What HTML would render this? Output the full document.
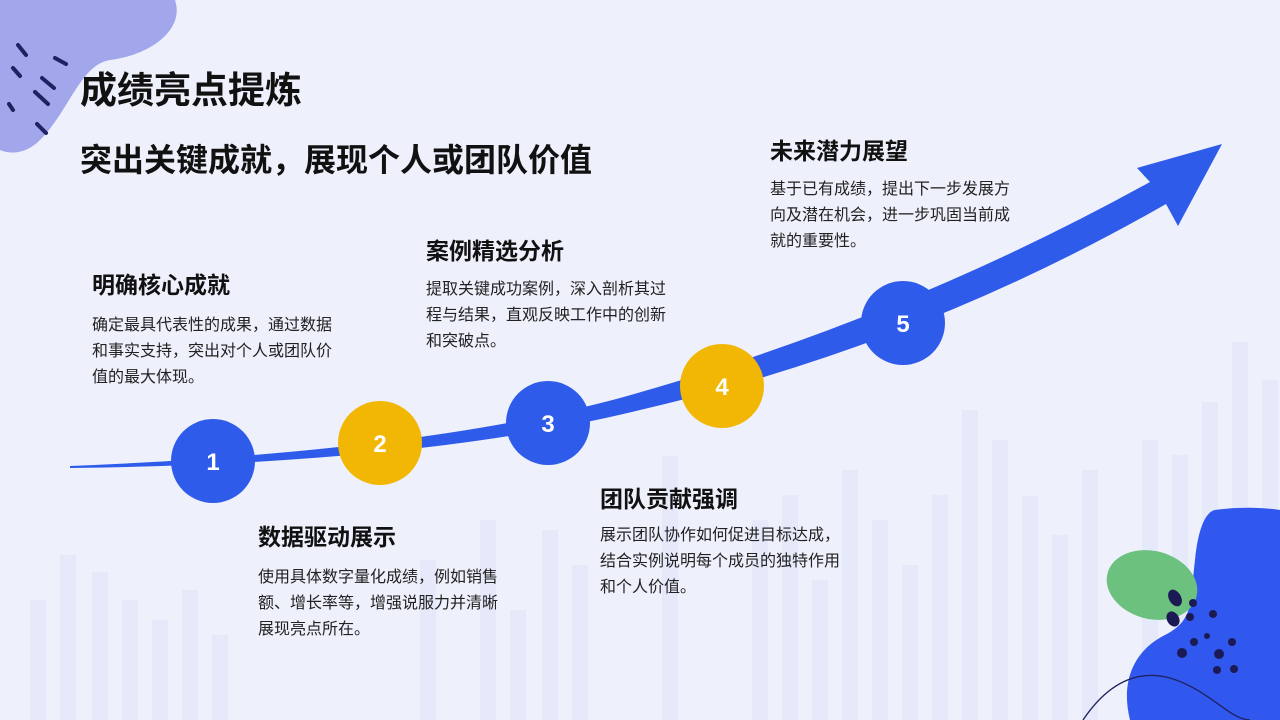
<!DOCTYPE html>
<html><head><meta charset="utf-8"><style>
body{margin:0;width:1280px;height:720px;overflow:hidden;background:#eef0fc;font-family:"Liberation Sans","Noto Sans CJK SC",sans-serif;position:relative}
h1{position:absolute;margin:0;left:80px;top:60px;font-size:37px;font-weight:bold;color:#111}
h2{position:absolute;margin:0;left:80px;top:135px;font-size:32px;font-weight:bold;color:#111}
.h{position:absolute;font-size:23px;font-weight:bold;color:#111}
.p{position:absolute;font-size:16px;line-height:26px;color:#222;width:248px}
</style></head><body>
<svg width="1280" height="720" style="position:absolute;left:0;top:0">
<g fill="#e6e9fa">
<rect x="30" y="600" width="16" height="120"/><rect x="60" y="555" width="16" height="165"/><rect x="92" y="572" width="16" height="148"/><rect x="122" y="600" width="16" height="120"/><rect x="152" y="620" width="16" height="100"/><rect x="182" y="590" width="16" height="130"/><rect x="212" y="635" width="16" height="85"/>
<rect x="420" y="560" width="16" height="160"/><rect x="480" y="520" width="16" height="200"/><rect x="510" y="610" width="16" height="110"/><rect x="542" y="530" width="16" height="190"/><rect x="572" y="565" width="16" height="155"/>
<rect x="662" y="456" width="16" height="264"/><rect x="752" y="520" width="16" height="200"/><rect x="782" y="495" width="16" height="225"/><rect x="812" y="580" width="16" height="140"/><rect x="842" y="470" width="16" height="250"/><rect x="872" y="520" width="16" height="200"/><rect x="902" y="565" width="16" height="155"/><rect x="932" y="495" width="16" height="225"/><rect x="962" y="410" width="16" height="310"/><rect x="992" y="440" width="16" height="280"/><rect x="1022" y="496" width="16" height="224"/><rect x="1052" y="535" width="16" height="185"/><rect x="1082" y="470" width="16" height="250"/><rect x="1142" y="440" width="16" height="280"/><rect x="1172" y="455" width="16" height="265"/><rect x="1202" y="402" width="16" height="318"/><rect x="1232" y="342" width="16" height="378"/><rect x="1262" y="380" width="16" height="340"/>
</g>
<path d="M0,0 L175,0 C185,30 150,55 110,60 C80,65 70,110 40,140 C20,160 0,150 0,150 Z" fill="#a2a6ea"/>
<g stroke="#1f2160" stroke-width="4" stroke-linecap="round">
<line x1="18" y1="45" x2="26" y2="55"/><line x1="55" y1="58" x2="66" y2="64"/><line x1="13" y1="68" x2="20" y2="76"/><line x1="42" y1="78" x2="54" y2="88"/><line x1="35" y1="92" x2="48" y2="104"/><line x1="9" y1="104" x2="13" y2="110"/><line x1="37" y1="124" x2="46" y2="133"/>
</g>
<path d="M70,466 Q 420,452 620,398 Q 900,320 1150,182 L1137,168 L1222,144 L1178,226 L1166,204 Q 920,345 640,410 Q 420,464 70,468 Z" fill="#2f5bea"/>
<path d="M1215,510 C1250,505 1280,510 1280,510 L1280,720 L1130,720 C1120,680 1135,650 1165,635 C1195,620 1190,600 1195,560 C1198,530 1205,512 1215,510 Z" fill="#3058ef"/>
<ellipse cx="1152" cy="585" rx="46" ry="34" transform="rotate(15 1152 585)" fill="#6cc17f"/>
<g fill="#1c1a55"><ellipse cx="1175" cy="598" rx="6" ry="9" transform="rotate(-30 1175 598)"/><ellipse cx="1173" cy="619" rx="6" ry="8" transform="rotate(-30 1173 619)"/><circle cx="1193" cy="603" r="4"/><circle cx="1190" cy="617" r="4"/><circle cx="1213" cy="614" r="4"/><circle cx="1207" cy="636" r="3"/><circle cx="1194" cy="642" r="4"/><circle cx="1232" cy="642" r="4"/><circle cx="1219" cy="654" r="5"/><circle cx="1182" cy="653" r="5"/><circle cx="1217" cy="670" r="4"/><circle cx="1234" cy="669" r="4"/></g>
<path d="M1083,720 C1110,680 1140,670 1170,678 C1210,690 1230,720 1250,720" fill="none" stroke="#1f2160" stroke-width="1.3"/>
<g font-family="Liberation Sans,sans-serif" font-weight="bold" font-size="24" fill="#fff" text-anchor="middle">
<circle cx="213" cy="461" r="42" fill="#2f5bea"/><text x="213" y="470">1</text>
<circle cx="380" cy="443" r="42" fill="#f2b705"/><text x="380" y="452">2</text>
<circle cx="548" cy="423" r="42" fill="#2f5bea"/><text x="548" y="432">3</text>
<circle cx="722" cy="386" r="42" fill="#f2b705"/><text x="722" y="395">4</text>
<circle cx="903" cy="323" r="42" fill="#2f5bea"/><text x="903" y="332">5</text>
</g>
</svg>
<h1>成绩亮点提炼</h1>
<h2>突出关键成就，展现个人或团队价值</h2>
<div class="h" style="left:92px;top:266px">明确核心成就</div>
<div class="p" style="left:92px;top:313px">确定最具代表性的成果，通过数据和事实支持，突出对个人或团队价值的最大体现。</div>
<div class="h" style="left:258px;top:518px">数据驱动展示</div>
<div class="p" style="left:258px;top:565px">使用具体数字量化成绩，例如销售额、增长率等，增强说服力并清晰展现亮点所在。</div>
<div class="h" style="left:426px;top:232px">案例精选分析</div>
<div class="p" style="left:426px;top:277px">提取关键成功案例，深入剖析其过程与结果，直观反映工作中的创新和突破点。</div>
<div class="h" style="left:600px;top:480px">团队贡献强调</div>
<div class="p" style="left:600px;top:523px">展示团队协作如何促进目标达成，结合实例说明每个成员的独特作用和个人价值。</div>
<div class="h" style="left:770px;top:132px">未来潜力展望</div>
<div class="p" style="left:770px;top:177px">基于已有成绩，提出下一步发展方向及潜在机会，进一步巩固当前成就的重要性。</div>
</body></html>
